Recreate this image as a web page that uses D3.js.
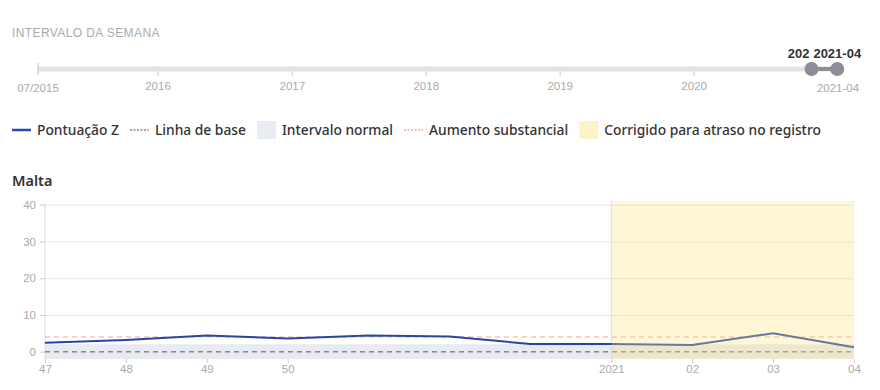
<!DOCTYPE html>
<html>
<head>
<meta charset="utf-8">
<script src="https://cdn.jsdelivr.net/npm/d3@7"></script>
<style>
  body { margin: 0; background: #fff; }
  svg { display: block; }
  .axis text { font-family: "Liberation Sans", Arial, sans-serif; font-size: 11.5px; fill: #aaa; }
  .legend text { font-family: "Noto Sans", sans-serif; font-size: 13.8px; font-weight: 500; fill: #333; }
</style>
</head>
<body>
<svg id="chart" width="880" height="390"></svg>
<script>
// --- DATA --- //
var weeks = ["2020-47", "2020-48", "2020-49", "2020-50", "2020-51", "2020-52", "2020-53",
	"2021-01", "2021-02", "2021-03", "2021-04"];
var weekLabels = ["47", "48", "49", "50", "", "", "", "2021", "02", "03", "04"];
var zScore = [2.4, 3.2, 4.4, 3.6, 4.4, 4.1, 2.1, 2.1, 1.8, 5.0, 1.2];
var baseline = 0, substantial = 4, normalLow = -2, normalHigh = 2;
var correctedFrom = "2021-01";
var yTicks = [0, 10, 20, 30, 40];

// slider (week range selector)
var sliderDomain = ["2015-02-08", "2021-01-27"];
var sliderYears = ["2016", "2017", "2018", "2019", "2020"];
var sliderEnds = ["07/2015", "2021-04"];
var selected = [{ date: "2020-11-16", label: "2020-47" }, { date: "2021-01-25", label: "2021-04" }];

var legendItems = [
	{ type: "line", label: "Pontuação Z" },
	{ type: "base", label: "Linha de base" },
	{ type: "band", label: "Intervalo normal" },
	{ type: "subst", label: "Aumento substancial" },
	{ type: "corr", label: "Corrigido para atraso no registro" }
];

var svg = d3.select("#chart");
var parse = d3.timeParse("%Y-%m-%d");

// --- SLIDER --- //
svg.append("text")
	.attr("x", 12).attr("y", 37)
	.attr("font-family", "Liberation Sans, Arial, sans-serif")
	.attr("font-size", 12).attr("fill", "#aaa")
	.attr("letter-spacing", 0.4)
	.text("INTERVALO DA SEMANA");

var sx = d3.scaleTime()
	.domain(sliderDomain.map(parse))
	.range([38, 838]);
var sy = 69;

var slider = svg.append("g").attr("class", "axis");
slider.append("line")
	.attr("x1", sx.range()[0]).attr("x2", sx.range()[1])
	.attr("y1", sy).attr("y2", sy)
	.attr("stroke", "#e3e3e3").attr("stroke-width", 5);
slider.append("line")
	.attr("x1", sx.range()[0]).attr("x2", sx.range()[0])
	.attr("y1", sy - 6).attr("y2", sy + 6)
	.attr("stroke", "#ddd").attr("stroke-width", 2);

var years = slider.selectAll(".yr").data(sliderYears).enter().append("g")
	.attr("class", "yr")
	.attr("transform", function(d) { return "translate(" + sx(parse(d + "-01-01")) + ",0)"; });
years.append("line")
	.attr("y1", sy + 2).attr("y2", sy + 7)
	.attr("stroke", "#ddd").attr("stroke-width", 1.5);
years.append("text")
	.attr("y", sy + 21).attr("text-anchor", "middle")
	.text(function(d) { return d; });

slider.append("text")
	.attr("x", sx.range()[0]).attr("y", sy + 23).attr("text-anchor", "middle")
	.text(sliderEnds[0]);
slider.append("text")
	.attr("x", sx.range()[1]).attr("y", sy + 23).attr("text-anchor", "middle")
	.text(sliderEnds[1]);

// selected range handles
var hx = selected.map(function(d) { return sx(parse(d.date)); });
svg.append("line")
	.attr("x1", hx[0]).attr("x2", hx[1]).attr("y1", sy).attr("y2", sy)
	.attr("stroke", "#8b8e98").attr("stroke-width", 4);
svg.selectAll(".handle").data(hx).enter().append("circle")
	.attr("class", "handle")
	.attr("cx", function(d) { return d; }).attr("cy", sy).attr("r", 7)
	.attr("fill", "#8b8e98");

// handle labels: the right one sits on a white box and hides part of the left one
var handleLabels = svg.selectAll(".hlabel").data(selected).enter().append("g")
	.attr("class", "hlabel")
	.attr("transform", function(d, i) { return "translate(" + hx[i] + "," + (sy - 11) + ")"; });
handleLabels.append("rect")
	.attr("x", -28).attr("y", -12).attr("width", 58).attr("height", 15)
	.attr("fill", function(d, i) { return i === 1 ? "#fff" : "none"; });
handleLabels.append("text")
	.attr("text-anchor", "middle")
	.attr("font-family", "Liberation Sans, Arial, sans-serif")
	.attr("font-size", 13).attr("font-weight", "bold").attr("fill", "#333")
	.text(function(d) { return d.label; });

// --- LEGEND --- //
var legend = svg.append("g").attr("class", "legend").attr("transform", "translate(12,130)");
var lx = 0;
legendItems.forEach(function(item) {
	var g = legend.append("g").attr("transform", "translate(" + lx + ",0)");
	var sw = 19;
	if (item.type === "line") {
		g.append("line").attr("x1", 0).attr("x2", sw).attr("stroke", "#2b4ba6").attr("stroke-width", 2.5);
	} else if (item.type === "base" || item.type === "subst") {
		g.append("line").attr("x1", 0).attr("x2", sw)
			.attr("stroke", item.type === "base" ? "#444" : "#f07070")
			.attr("stroke-width", 1).attr("stroke-dasharray", "2,1.5");
	} else {
		g.append("rect").attr("x", 0).attr("y", -9).attr("width", sw).attr("height", 18)
			.attr("fill", item.type === "band" ? "#e9edf3" : "#fdf3c7");
	}
	var t = g.append("text").attr("x", sw + 6).attr("y", 5).text(item.label);
	lx += sw + 6 + t.node().getComputedTextLength() + 11;
});

// --- CHART --- //
svg.append("text")
	.attr("x", 12).attr("y", 186)
	.attr("font-family", "Noto Sans, sans-serif")
	.attr("font-size", 14.5).attr("font-weight", 600).attr("fill", "#333")
	.text("Malta");

var plotLeft = 45, plotRight = 854, plotTop = 201, plotBottom = 359;
var x = d3.scalePoint().domain(weeks).range([plotLeft, plotRight]).padding(0);
var y = d3.scaleLinear().domain([-2, 41]).range([plotBottom, plotTop]);

// normal band
svg.append("rect")
	.attr("x", plotLeft).attr("width", plotRight - plotLeft)
	.attr("y", y(normalHigh)).attr("height", y(normalLow) - y(normalHigh))
	.attr("fill", "#e7ebf1");

// gridlines + y axis
var yAxis = svg.append("g").attr("class", "axis")
	.attr("transform", "translate(" + plotLeft + ",0)")
	.call(d3.axisLeft(y).tickValues(yTicks).tickSize(5).tickPadding(4));
yAxis.select(".domain").attr("stroke", "#ddd").attr("d", "M0," + (plotTop + 2) + "V" + plotBottom);
yAxis.selectAll(".tick line").attr("stroke", "#ccc");
yAxis.selectAll(".tick").append("line")
	.attr("x2", plotRight - plotLeft).attr("stroke", "#e6e6e6");

// x axis
var xAxis = svg.append("g").attr("class", "axis")
	.attr("transform", "translate(0," + plotBottom + ")")
	.call(d3.axisBottom(x)
		.tickValues(weeks.filter(function(d, i) { return weekLabels[i] !== ""; }))
		.tickFormat(function(d) { return weekLabels[weeks.indexOf(d)]; })
		.tickSize(4).tickPadding(2));
xAxis.select(".domain").remove();
xAxis.selectAll(".tick line").attr("stroke", "#ccc");

// vertical separator at start of corrected period
svg.append("line")
	.attr("x1", x(correctedFrom)).attr("x2", x(correctedFrom))
	.attr("y1", plotTop).attr("y2", plotBottom)
	.attr("stroke", "#ddd");

// baseline + substantial threshold
svg.append("line")
	.attr("x1", plotLeft).attr("x2", plotRight).attr("y1", y(baseline)).attr("y2", y(baseline))
	.attr("stroke", "#888").attr("stroke-width", 1.5).attr("stroke-dasharray", "5,4");
svg.append("line")
	.attr("x1", plotLeft).attr("x2", plotRight).attr("y1", y(substantial)).attr("y2", y(substantial))
	.attr("stroke", "#f3a3a3").attr("stroke-width", 1).attr("stroke-dasharray", "5,4");

// z-score line
var line = d3.line()
	.x(function(d, i) { return x(weeks[i]); })
	.y(function(d) { return y(d); });
svg.append("path")
	.datum(zScore)
	.attr("d", line)
	.attr("fill", "none").attr("stroke", "#2746a3").attr("stroke-width", 2);

// corrected-for-delay overlay
svg.append("rect")
	.attr("x", x(correctedFrom)).attr("width", plotRight - x(correctedFrom))
	.attr("y", plotTop).attr("height", plotBottom - plotTop)
	.attr("fill", "#fae482").attr("fill-opacity", 0.32);
</script>
</body>
</html>
